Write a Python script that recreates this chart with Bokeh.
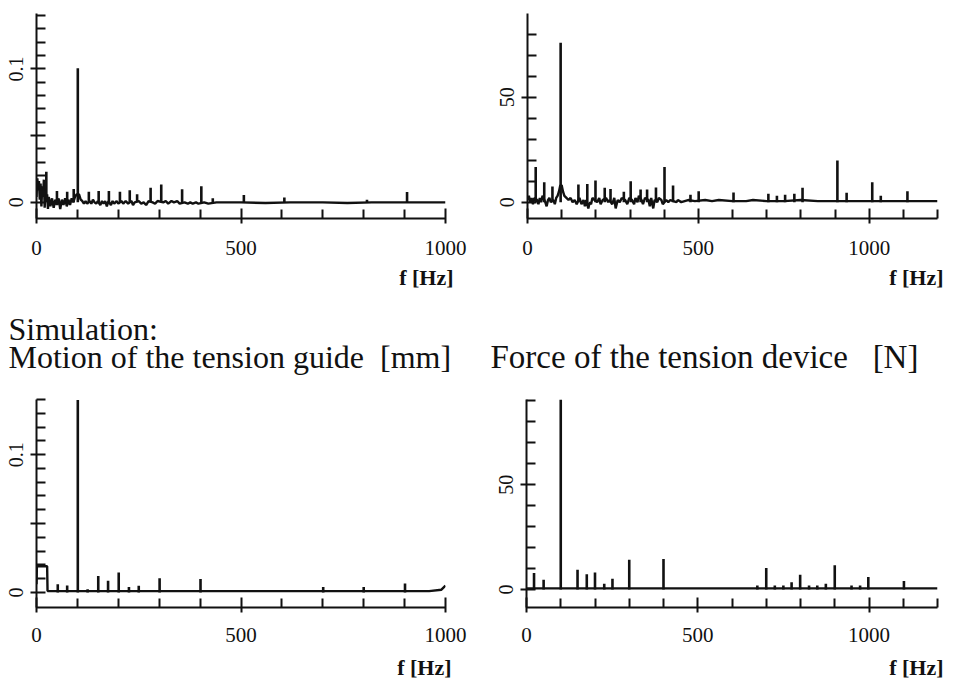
from bokeh.plotting import figure
from bokeh.layouts import column, row
from bokeh.models import Range1d, FixedTicker
from bokeh.core.properties import value
from bokeh.embed import file_html
from bokeh.resources import INLINE

# ---------------- data ----------------
# Top-left: measured motion of the tension guide [mm]
guide_meas_floor_f = [0, 2, 4, 6, 8, 10, 12, 14, 16, 18, 20, 22, 24, 26, 28, 30, 34, 38, 42, 46, 50,
                      54, 58, 62, 66, 70, 74, 78, 82, 86, 90, 94, 98, 104, 108, 112, 116, 120, 124,
                      130, 134, 138, 142, 146, 150, 156, 160, 164, 168, 172, 176, 182, 186, 190, 196,
                      200, 208, 212, 218, 224, 232, 236, 240, 250, 256, 262, 268, 274, 284, 290, 296,
                      310, 316, 322, 330, 336, 344, 350, 362, 370, 376, 382, 390, 396, 410, 420, 440,
                      470, 500, 560, 620, 700, 760, 820, 880, 940, 1000]
guide_meas_floor_a = [0.004, 0.018, 0.010, 0.016, 0.002, 0.014, -0.003, 0.012, 0.004, 0.017, -0.004,
                      0.010, 0.002, 0.006, -0.005, 0.004, -0.003, 0.003, -0.004, 0.002, -0.002,
                      0.003, -0.005, 0.002, -0.002, 0.003, -0.003, 0.002, -0.002, 0.003, 0.000,
                      0.004, 0.006, 0.006, 0.002, 0.001, -0.001, 0.001, -0.001, 0.001, -0.001,
                      0.002, 0.000, -0.001, 0.001, -0.002, 0.001, -0.001, 0.001, -0.003, 0.001,
                      -0.002, 0.001, -0.001, 0.001, -0.001, 0.001, -0.001, 0.001, -0.001, 0.001,
                      -0.002, 0.000, 0.001, -0.001, 0.000, -0.002, 0.001, 0.000, -0.001, 0.001,
                      0.000, 0.001, -0.001, 0.001, 0.000, 0.001, -0.001, 0.000, -0.001, 0.000,
                      -0.001, 0.000, -0.001, 0.000, -0.001, 0.000, 0.000, 0.000, -0.0005, 0.000,
                      0.000, -0.0005, 0.000, 0.000, 0.000, 0.000]
guide_meas_peak_f = [24, 50, 75, 91, 101, 128, 152, 177, 204, 228, 246, 279, 305, 356, 403, 431,
                     507, 606, 808, 906]
guide_meas_peak_a = [0.023, 0.0085, 0.008, 0.010, 0.1005, 0.008, 0.0085, 0.0085, 0.008, 0.009,
                     0.006, 0.011, 0.0134, 0.0098, 0.012, 0.003, 0.0056, 0.0037, 0.002, 0.0078]

# Top-right: measured force of the tension device [N]
force_meas_floor_f = [0, 4, 8, 12, 16, 20, 28, 32, 36, 40, 44, 52, 56, 60, 64, 68, 76, 80, 84, 88,
                      92, 96, 100, 104, 108, 114, 120, 126, 132, 138, 144, 152, 158, 164, 168, 172,
                      178, 182, 186, 190, 196, 204, 210, 214, 220, 230, 236, 240, 248, 254, 258,
                      264, 270, 276, 286, 292, 298, 306, 312, 316, 322, 326, 334, 338, 344, 354,
                      358, 362, 368, 372, 380, 384, 392, 396, 406, 412, 418, 436, 440, 450, 470,
                      490, 520, 540, 560, 600, 640, 660, 700, 750, 800, 850, 900, 950, 1000, 1050,
                      1100, 1150, 1200]
force_meas_floor_a = [1, 3, 0, 2, -1, 2, 1, -1, 2, 0, 3, 0, -2, 1, 2, 0, 1, -1, 2, 3,
                      5, 8, 8, 5, 3, 2, 1, 2, 0, 1, -1, 2, -1, 1, -2, 1,
                      -3, 0, -1, 2, 1, 0, 2, -1, 1, 2, 0, 1, -1, 2, -3,
                      1, 0, 2, 1, -1, 2, 1, -1, 2, 0, 3, 1, -1, 2, 1,
                      -2, 2, -3, 1, 0, 2, 1, -1, 1, 0, 1, 0, 1, 0, 1,
                      0.5, 1, 0.5, 1, 0.5, 0.5, 1, 0.5, 0.5, 1, 0.5, 0.5, 0.5, 0.5, 0.5,
                      0.5, 0.5, 0.5]
force_meas_peak_f = [24, 49, 73, 97, 149, 175, 199, 226, 243, 282, 302, 331, 350, 376, 401, 426,
                     477, 501, 603, 705, 730, 754, 781, 805, 907, 934, 1009, 1034, 1112]
force_meas_peak_a = [16.7, 9.5, 7.5, 76, 8.4, 8.7, 10.3, 6.8, 6.3, 5, 10, 6, 6, 7, 16.7, 7.9,
                     3.5, 5.2, 4.6, 4, 3, 3.5, 4, 6.8, 19.8, 4.5, 9.5, 3, 5.2]

# Bottom-left: simulated motion of the tension guide [mm]
guide_sim_floor_f = [0, 1, 26, 27, 60, 130, 300, 500, 700, 900, 960, 990, 1000]
guide_sim_floor_a = [0.006, 0.019, 0.019, 0.001, 0.001, 0.001, 0.001, 0.001, 0.001, 0.001,
                     0.001, 0.002, 0.005]
guide_sim_peak_f = [52, 75, 101, 125, 151, 175, 201, 226, 250, 301, 401, 701, 800, 901]
guide_sim_peak_a = [0.006, 0.005, 0.1397, 0.0024, 0.012, 0.0085, 0.0145, 0.004, 0.0048, 0.0104,
                    0.0097, 0.004, 0.004, 0.0065]

# Bottom-right: simulated force of the tension device [N]
force_sim_floor_f = [0, 300, 600, 900, 1200]
force_sim_floor_a = [0.5, 0.5, 0.5, 0.5, 0.5]
force_sim_peak_f = [22, 50, 100, 149, 176, 200, 227, 251, 300, 400, 674, 700, 725, 750, 774, 799,
                    825, 849, 874, 900, 949, 974, 998, 1102]
force_sim_peak_a = [7.8, 4.6, 90.6, 9.4, 7.2, 8.1, 2.7, 5.1, 14.2, 14.5, 1.9, 10.2, 1.9, 1.9, 3.5,
                    7.0, 1.9, 1.9, 2.7, 11.5, 1.9, 1.9, 5.9, 4.0]

# ticks
x_major_ticks = [0, 500, 1000]
x_minor_left = [100, 200, 300, 400, 600, 700, 800, 900]
x_minor_right = [100, 200, 300, 400, 600, 700, 800, 900, 1100, 1200]
y_major_mm = [0, 0.05, 0.1]
y_minor_mm = [0.01, 0.02, 0.03, 0.04, 0.06, 0.07, 0.08, 0.09, 0.11, 0.12, 0.13, 0.14]
y_labels_mm = {0: "0", 0.05: "", 0.1: "0.1"}
y_major_n = [0, 50]
y_minor_n = [10, 20, 30, 40, 60, 70, 80, 90]
y_labels_n = {0: "0", 50: "50"}

x_label = "f [Hz]"
sim_title = "Simulation:"
guide_title = "Motion of the tension guide \u00a0[mm]"
force_title = "Force of the tension device \u00a0\u00a0[N]"

SERIF = "Liberation Serif"
INK = "#111111"


def make_panel(w, h, bl, br, bt, bb, xr, yr, ymaj, ymin, ylabels, xmin_ticks, xstand):
    p = figure(width=w, height=h, output_backend="svg", toolbar_location=None, tools="",
               x_range=Range1d(*xr), y_range=Range1d(*yr),
               min_border_left=bl, min_border_right=br, min_border_top=bt, min_border_bottom=bb)
    p.outline_line_color = None
    p.xgrid.visible = False
    p.ygrid.visible = False
    p.background_fill_color = "white"
    p.border_fill_color = "white"
    ax = p.xaxis[0]
    ax.ticker = FixedTicker(ticks=x_major_ticks, minor_ticks=xmin_ticks)
    ay = p.yaxis[0]
    ay.ticker = FixedTicker(ticks=ymaj, minor_ticks=ymin)
    ay.major_label_overrides = ylabels
    ay.major_label_orientation = "vertical"
    for a in (ax, ay):
        a.axis_line_color = INK
        a.axis_line_width = 2
        a.major_tick_line_color = INK
        a.major_tick_line_width = 2
        a.minor_tick_line_color = INK
        a.minor_tick_line_width = 2
        a.major_label_text_font = SERIF
        a.major_label_text_color = INK
    ax.major_label_text_font_size = "21px"
    ay.major_label_text_font_size = "20px"
    ax.major_tick_in = 10
    ax.major_tick_out = 5
    ax.minor_tick_in = 9
    ax.minor_tick_out = 0
    ax.major_label_standoff = xstand
    ay.major_tick_in = 9
    ay.major_tick_out = 6
    ay.minor_tick_in = 9
    ay.minor_tick_out = 0
    ay.major_label_standoff = 7
    return p


def draw(p, ff, fa, pf, pa):
    p.line(ff, fa, line_color=INK, line_width=2.4)
    p.segment(x0=pf, y0=[0] * len(pf), x1=pf, y1=pa, line_color=INK, line_width=2.6)


def text_strip(w, h):
    s = figure(width=w, height=h, output_backend="svg", toolbar_location=None, tools="",
               x_range=Range1d(0, w), y_range=Range1d(h, 0),
               x_axis_type=None, y_axis_type=None,
               min_border_left=0, min_border_right=0, min_border_top=0, min_border_bottom=0)
    s.outline_line_color = None
    s.background_fill_color = "white"
    s.border_fill_color = "white"
    return s


def put(s, xs, ys, texts, size, align, style="normal"):
    s.text(x=xs, y=ys, text=texts, text_font=value(SERIF), text_font_size=size,
           text_align=align, text_baseline="alphabetic", text_color=INK,
           text_font_style=style)


xr_l, xr_r = (0, 1000), (0, 1200)
yr1, yr2 = (-0.0121, 0.1415), (-7.8, 89.9)
yr3, yr4 = (-0.0109, 0.14), (-8.6, 90.6)

TOP_H = 264            # page rows 0..264
MID_END = 388          # text strip 264..388
BOT_END = 654          # bottom plots 388..654, strip 654..684
BOT_H = BOT_END - MID_END

p1 = make_panel(480, TOP_H, 36, 35, 8, TOP_H - 218, xr_l, yr1, y_major_mm, y_minor_mm, y_labels_mm, x_minor_left, 17)
p2 = make_panel(475, TOP_H, 47, 18, 13, TOP_H - 218, xr_r, yr2, y_major_n, y_minor_n, y_labels_n, x_minor_right, 17)
p3 = make_panel(480, BOT_H, 36, 35, 399 - MID_END, BOT_END - 607, xr_l, yr3, y_major_mm, y_minor_mm, y_labels_mm, x_minor_left, 15)
p4 = make_panel(475, BOT_H, 46, 18, 399 - MID_END, BOT_END - 607, xr_r, yr4, y_major_n, y_minor_n, y_labels_n, x_minor_right, 15)

draw(p1, guide_meas_floor_f, guide_meas_floor_a, guide_meas_peak_f, guide_meas_peak_a)
draw(p2, force_meas_floor_f, force_meas_floor_a, force_meas_peak_f, force_meas_peak_a)
draw(p3, guide_sim_floor_f, guide_sim_floor_a, guide_sim_peak_f, guide_sim_peak_a)
draw(p4, force_sim_floor_f, force_sim_floor_a, force_sim_peak_f, force_sim_peak_a)

# middle text strip
mid = text_strip(955, MID_END - TOP_H)
put(mid, [453, 943], [13, 13], [x_label, x_label], "22px", "right", "bold")
put(mid, [8], [64], [sim_title], "32px", "left")
put(mid, [8], [92], [guide_title], "32px", "left")
put(mid, [490], [92], [force_title], "33px", "left")

# bottom text strip
bot = text_strip(955, 684 - BOT_END)
put(bot, [451, 943], [13, 13], [x_label, x_label], "22px", "right", "bold")

layout = column(row(p1, p2), mid, row(p3, p4), bot)
open("out.html", "w").write(file_html(layout, INLINE))
